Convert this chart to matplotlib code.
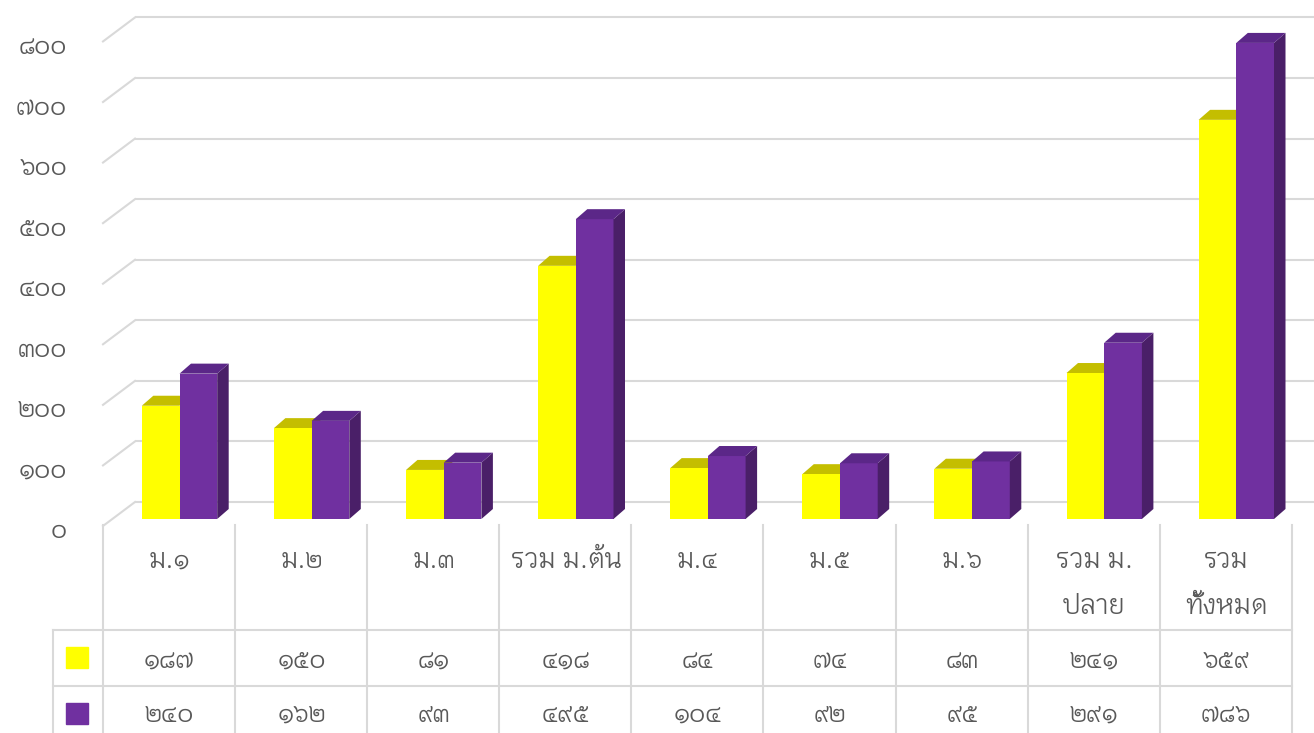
import matplotlib
matplotlib.use("Agg")
import matplotlib.pyplot as plt
from matplotlib.patches import Polygon
from matplotlib.lines import Line2D
from matplotlib import transforms

plt.rcParams['font.family'] = ['Krub', 'Noto Sans Thai', 'DejaVu Sans']

# ---- data ----
categories = ["ม.๑", "ม.๒", "ม.๓", "รวม ม.ต้น", "ม.๔", "ม.๕", "ม.๖", "รวม ม.\nปลาย", "รวม\nทั้งหมด"]
series1 = [187, 150, 81, 418, 84, 74, 83, 241, 659]
series2 = [240, 162, 93, 495, 104, 92, 95, 291, 786]
yticks = [0, 100, 200, 300, 400, 500, 600, 700, 800]

THAI = str.maketrans("0123456789", "๐๑๒๓๔๕๖๗๘๙")
def thai(n):
    return str(n).translate(THAI)

# ---- styles ----
W, H = 1314, 733
YEL, YEL_TOP = "#FFFF00", "#C4BE00"
PUR, PUR_TOP, PUR_SIDE = "#7030A0", "#5B2788", "#4A1F68"
GRID = "#D9D9D9"
TXT = "#595959"
FS = 19

COLW = 132.1          # px per category
X0 = 169.5            # px centre of first category
Y0 = 519              # px (from top) of value 0 on bar front plane
PPU = 0.6057          # px per unit

fig = plt.figure(figsize=(W / 100, H / 100), dpi=100)
ax = fig.add_axes([0, 0, 1, 1])
ax.set_xlim(-X0 / COLW, (W - X0) / COLW)
ax.set_ylim(-(H - Y0) / PPU, Y0 / PPU)
ax.axis("off")

def dx(px):
    return px / COLW
def dv(px):
    return px / PPU

# ---- back wall grid + floor diagonals ----
back_x0 = dx(135 - X0)
front_x0 = dx(103 - X0)
xr = dx(W + 5 - X0)
for v in yticks:
    yb = v + dv(17)
    yf = v - dv(7)
    ax.plot([back_x0, xr], [yb, yb], color=GRID, lw=1.5, zorder=1, solid_capstyle="butt")
    ax.plot([front_x0, back_x0], [yf, yb], color=GRID, lw=1.5, zorder=1)
    ax.text(dx(67 - X0), v - dv(12), thai(v), ha="right", va="center",
            fontsize=FS, color=TXT)

# ---- 3D-looking bars ----
bw = dx(37.7)
off = dx(10)
ddx, ddy = dx(11.5), dv(10)
for i, (a, b) in enumerate(zip(series1, series2)):
    xl = i + off - bw
    xm = i + off
    xr2 = i + off + bw
    ax.add_patch(Polygon([(xl, a), (xm, a), (xm + ddx, a + ddy), (xl + ddx, a + ddy)],
                         closed=True, facecolor=YEL_TOP, edgecolor="none", zorder=3))
    ax.bar(xl, a, width=bw, align="edge", color=YEL, edgecolor="none", zorder=4)
    ax.bar(xm, b, width=bw, align="edge", color=PUR, edgecolor="none", zorder=5)
    ax.add_patch(Polygon([(xr2, 0), (xr2, b), (xr2 + ddx, b + ddy), (xr2 + ddx, ddy)],
                         closed=True, facecolor=PUR_SIDE, edgecolor="none", zorder=5))
    ax.add_patch(Polygon([(xm, b), (xr2, b), (xr2 + ddx, b + ddy), (xm + ddx, b + ddy)],
                         closed=True, facecolor=PUR_TOP, edgecolor="none", zorder=5))

# ---- data table ----
def fx(px):
    return px / W
def fy(p):
    return 1 - p / H

def fline(x1, y1, x2, y2):
    fig.add_artist(Line2D([fx(x1), fx(x2)], [fy(y1), fy(y2)], color=GRID, lw=1.5,
                          transform=fig.transFigure))

n = len(categories)
for k in range(n + 1):
    xk = 103 + COLW * k
    fline(xk, 525, xk, H + 2)
fline(53, 630, 53, H + 2)
fline(53, 630, 103 + COLW * n, 630)
fline(53, 686, 103 + COLW * n, 686)

bt = transforms.blended_transform_factory(ax.transData, fig.transFigure)
for i, c in enumerate(categories):
    ax.text(i, fy(547), c, ha="center", va="top", fontsize=FS, color=TXT,
            transform=bt, linespacing=1.9)
    ax.text(i, fy(660), thai(series1[i]), ha="center", va="center", fontsize=FS,
            color=TXT, transform=bt)
    ax.text(i, fy(714), thai(series2[i]), ha="center", va="center", fontsize=FS,
            color=TXT, transform=bt)

for p, col in ((647, YEL), (703, PUR)):
    fig.add_artist(plt.Rectangle((fx(66), fy(p + 21)), fx(22), 21 / H, color=col,
                                 transform=fig.transFigure))

fig.savefig("out.png", dpi=100)
